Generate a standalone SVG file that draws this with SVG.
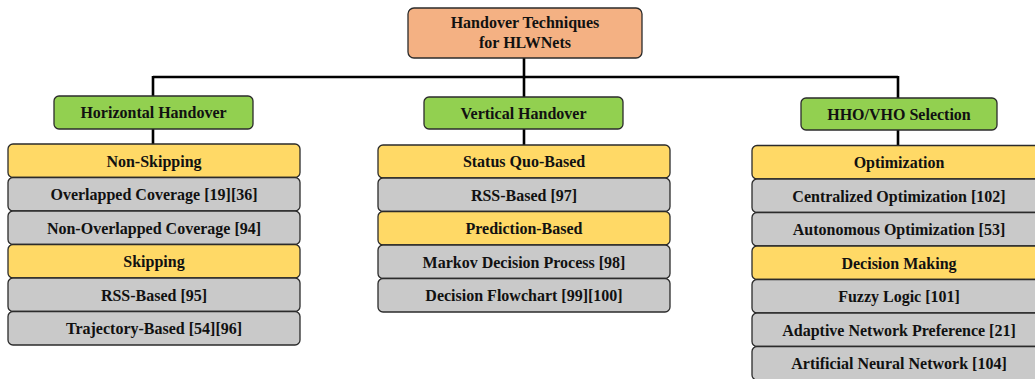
<svg xmlns="http://www.w3.org/2000/svg" width="1035" height="379" viewBox="0 0 1035 379">
<style>
.box{stroke:#2b2b2b;stroke-width:1.3}
.root{fill:#F4B183}
.grn{fill:#92D050}
.yel{fill:#FFD966}
.gry{fill:#C9C9C9}
text{font-family:"Liberation Serif","Times New Roman",serif;font-weight:bold;font-size:16px;fill:#111;text-anchor:middle}
.conn{stroke:#000;stroke-width:2.6;fill:none}
</style>
<rect width="1035" height="379" fill="#fff"/>
<g id="connectors">
<path class="conn" d="M524 58V77M153 77H898M153 76V96M524 77V97M898 76V98"/>
<path class="conn" d="M153 129V144M524 129V145M898 130V145.5"/>
</g>
<g id="root"><rect class="box root" x="408" y="8" width="234" height="50" rx="6"/><text x="525" y="28">Handover Techniques</text><text x="525" y="48">for HLWNets</text></g>
<g id="horizontal"><rect class="box grn" x="54" y="96" width="199" height="33" rx="5"/><text x="153.5" y="118">Horizontal Handover</text></g>
<g id="vertical"><rect class="box grn" x="424" y="97" width="199" height="32" rx="5"/><text x="523.5" y="118.5">Vertical Handover</text></g>
<g id="selection"><rect class="box grn" x="801" y="98" width="196" height="32" rx="5"/><text x="899" y="119.5">HHO/VHO Selection</text></g>

<g id="non-skipping"><rect class="box yel" x="8" y="144" width="292" height="33.5" rx="5"/><text x="154" y="166.5">Non-Skipping</text></g>
<g id="overlapped"><rect class="box gry" x="8" y="177.5" width="292" height="33.5" rx="5"/><text x="154" y="200">Overlapped Coverage [19][36]</text></g>
<g id="non-overlapped"><rect class="box gry" x="8" y="211" width="292" height="33.5" rx="5"/><text x="154" y="233.5">Non-Overlapped Coverage [94]</text></g>
<g id="skipping"><rect class="box yel" x="8" y="244.5" width="292" height="33.5" rx="5"/><text x="154" y="267">Skipping</text></g>
<g id="rss-95"><rect class="box gry" x="8" y="278" width="292" height="33.5" rx="5"/><text x="154" y="300.5">RSS-Based [95]</text></g>
<g id="trajectory"><rect class="box gry" x="8" y="311.5" width="292" height="33.5" rx="5"/><text x="154" y="334">Trajectory-Based [54][96]</text></g>

<g id="status-quo"><rect class="box yel" x="378" y="145" width="292" height="33" rx="5"/><text x="524" y="167">Status Quo-Based</text></g>
<g id="rss-97"><rect class="box gry" x="378" y="178" width="292" height="33.5" rx="5"/><text x="524" y="200.5">RSS-Based [97]</text></g>
<g id="prediction"><rect class="box yel" x="378" y="211.5" width="292" height="33.5" rx="5"/><text x="524" y="234">Prediction-Based</text></g>
<g id="markov"><rect class="box gry" x="378" y="245" width="292" height="33.5" rx="5"/><text x="524" y="267.5">Markov Decision Process [98]</text></g>
<g id="flowchart"><rect class="box gry" x="378" y="278.5" width="292" height="33.5" rx="5"/><text x="524" y="301">Decision Flowchart [99][100]</text></g>

<g id="optimization"><rect class="box yel" x="752" y="145.5" width="294" height="33.5" rx="5"/><text x="899" y="168">Optimization</text></g>
<g id="centralized"><rect class="box gry" x="752" y="179" width="294" height="33.5" rx="5"/><text x="899" y="201.5">Centralized Optimization [102]</text></g>
<g id="autonomous"><rect class="box gry" x="752" y="212.5" width="294" height="33.5" rx="5"/><text x="899" y="235">Autonomous Optimization [53]</text></g>
<g id="decision-making"><rect class="box yel" x="752" y="246" width="294" height="33.5" rx="5"/><text x="899" y="268.5">Decision Making</text></g>
<g id="fuzzy"><rect class="box gry" x="752" y="279.5" width="294" height="33.5" rx="5"/><text x="899" y="302">Fuzzy Logic [101]</text></g>
<g id="adaptive"><rect class="box gry" x="752" y="313" width="294" height="33.5" rx="5"/><text x="899" y="335.5">Adaptive Network Preference [21]</text></g>
<g id="ann"><rect class="box gry" x="752" y="346.5" width="294" height="33.5" rx="5"/><text x="899" y="369">Artificial Neural Network [104]</text></g>
</svg>
